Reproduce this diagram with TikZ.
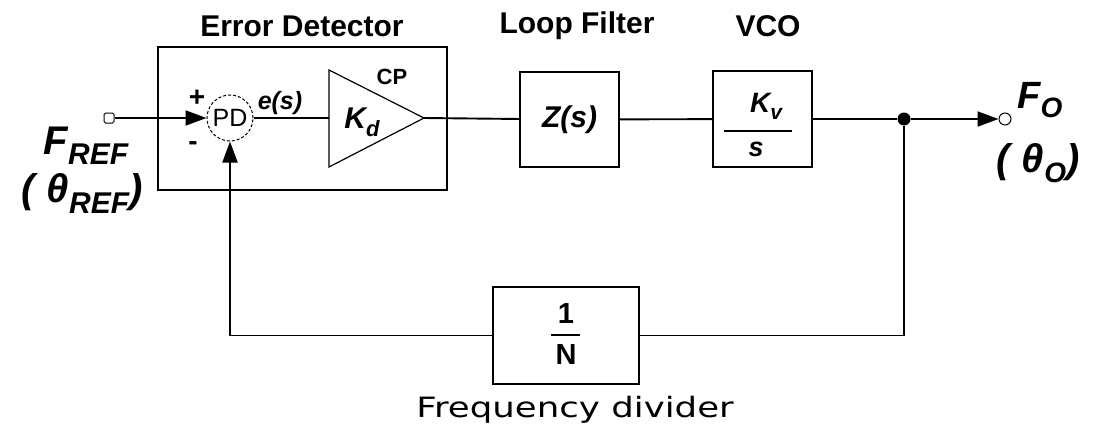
\documentclass[tikz,border=0pt]{standalone}
\usepackage{fontspec}
\setmainfont{Liberation Sans}
\newfontfamily\dejavu{DejaVu Sans}
\usetikzlibrary{arrows.meta,positioning}

\newcommand{\taille}[1]{\fontsize{#1}{#1}\selectfont}
\newcommand{\indice}[2]{\raisebox{-#1}{#2}}

\tikzset{
  bloc/.style={draw, line width=1.9pt, inner sep=0pt},
  lien/.style={line width=1.9pt},
  fleche/.style={-{Triangle[length=21pt,width=15pt]}},
  titre/.style={font=\taille{30}\bfseries},
  formule/.style={font=\bfseries\itshape, inner sep=0pt},
}

\begin{document}
\begin{tikzpicture}[x=1pt,y=-1pt]
\useasboundingbox (0,0) rectangle (1095,432);

% Titres des blocs
\node[titre] (ted) at (302,26) {Error Detector};
\node[titre] (tlf) at (577,26) {Loop Filter};
\node[titre] (tvco) at (768,26) {VCO};

% Détecteur d'erreur
\node[bloc, minimum width=289pt, minimum height=143pt] (ed) at (302.5,118.5) {};
\node[draw, circle, densely dashed, line width=1pt, minimum size=46pt, inner sep=0pt, font=\taille{25}] (pd) at (230,118) {PD};
\coordinate (ampA) at (329,70);
\coordinate (ampB) at (329,167);
\coordinate (ampC) at (424,118);
\coordinate (ampin) at (329,118);
\draw[line width=1.2pt] (ampA) -- (ampB) -- (ampC) -- cycle;
\node[formule, font=\taille{30}\bfseries\itshape] (kd) at (362,122) {K\indice{8pt}{\taille{22}d}};
\node[font=\taille{22}\bfseries] (cp) at (392,77) {CP};
\node[formule, font=\taille{25}\bfseries\itshape] (es) at (280,103) {e(s)};
\node[font=\taille{28}\bfseries] (plus) at (197,98) {+};
\node[font=\taille{28}\bfseries] (moins) at (193,146) {-};

% Filtre et VCO
\node[bloc, minimum width=99pt, minimum height=95pt, formule, font=\taille{30}\bfseries\itshape] (lf) at (569.5,119.5) {Z(s)};
\node[bloc, minimum width=99pt, minimum height=96pt] (vco) at (762.5,119) {};
\node[formule, font=\taille{28}\bfseries\itshape] (kv) at (766,106) {K\indice{7pt}{\taille{21}v}};
\draw[lien] (724,131) -- (792,131);
\node[formule, font=\taille{27}\bfseries\itshape] (s) at (756,149) {s};

% Diviseur
\node[bloc, minimum width=146pt, minimum height=97pt] (div) at (566,335.5) {};
\node[font=\taille{29}\bfseries] (un) at (566,314) {1};
\draw[lien] (551,335) -- (580,335);
\node[font=\taille{29}\bfseries] (n) at (566,355) {N};
\node[font=\dejavu\taille{28}, xscale=1.27] (tdiv) at (575,410) {Frequency divider};

% Entrée et sortie
\node[draw, line width=1pt, minimum size=10pt, inner sep=0pt, rounded corners=1.5pt] (fin) at (109,118) {};
\node[draw, circle, line width=1pt, minimum size=12pt, inner sep=0pt] (fout) at (1005,119) {};
\node[circle, fill, minimum size=13pt, inner sep=0pt] (jn) at (904,119) {};

\node[formule] (fref) at (86,146) {\taille{40}F\indice{10pt}{\taille{30}REF}};
\node[formule] (thref) at (82,194) {\taille{40}(\kern12pt θ\indice{11pt}{\taille{30}REF})};
\node[formule] (fo) at (1040,100) {\taille{38}F\indice{9pt}{\taille{28}O}};
\node[formule] (tho) at (1038,163) {\taille{40}(\kern12pt θ\indice{10pt}{\taille{28}O})};

% Liaisons
\draw[lien, fleche] (fin) -- (pd);
\draw[lien] (pd) -- (ampin);
\draw[lien] (ampC) -- (lf);
\draw[lien] (lf) -- (vco);
\draw[lien] (vco) -- (jn);
\draw[lien, fleche] (jn) -- (fout);
\draw[lien] (jn) |- (div);
\draw[lien, fleche] (div) -| (pd);
\end{tikzpicture}
\end{document}
